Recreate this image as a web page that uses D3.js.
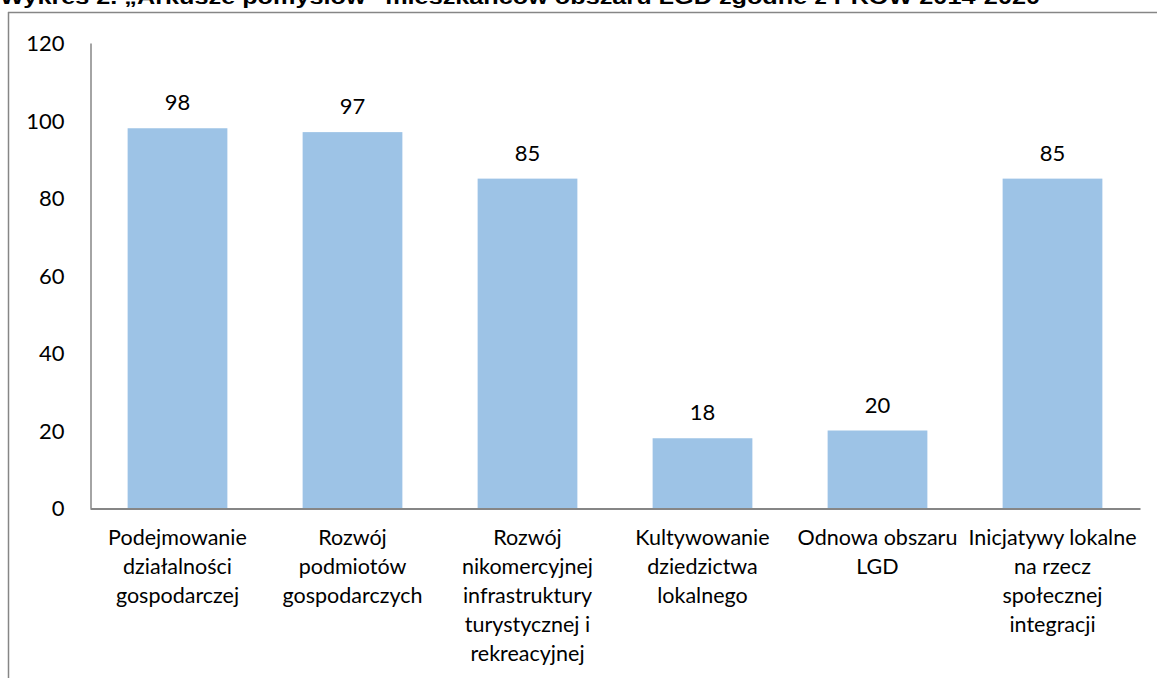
<html>
<head>
<meta charset="utf-8">
<script src="https://d3js.org/d3.v7.min.js"></script>
<style>
  body { margin: 0; background: #fff; }
  svg text { font-family: Lato, "Open Sans", sans-serif; fill: #000; }
  .title { font-family: "Liberation Sans", Arial, sans-serif; font-weight: bold; }
</style>
</head>
<body>
<svg id="chart" width="1157" height="678"></svg>
<script>
// data
var categories = [
  ["Podejmowanie", "działalności", "gospodarczej"],
  ["Rozwój", "podmiotów", "gospodarczych"],
  ["Rozwój", "nikomercyjnej", "infrastruktury", "turystycznej i", "rekreacyjnej"],
  ["Kultywowanie", "dziedzictwa", "lokalnego"],
  ["Odnowa obszaru", "LGD"],
  ["Inicjatywy lokalne", "na rzecz", "społecznej", "integracji"]
];
var values = [98, 97, 85, 18, 20, 85];
var yTicks = [0, 20, 40, 60, 80, 100, 120];
var title = "Wykres 2. „Arkusze pomysłów\u201D mieszkańców obszaru LGD zgodne z PROW 2014-2020";

var svg = d3.select("#chart");
var axisColor = "#868686";

// outer frame (top and left edge visible)
svg.append("line").attr("x1", 8).attr("x2", 1157).attr("y1", 12.5).attr("y2", 12.5)
  .attr("stroke", axisColor).attr("stroke-width", 1.5);
svg.append("line").attr("x1", 8.5).attr("x2", 8.5).attr("y1", 12).attr("y2", 678)
  .attr("stroke", axisColor).attr("stroke-width", 1.5);

svg.append("text").attr("class", "title")
  .attr("x", 0).attr("y", 4)
  .attr("font-size", 20)
  .attr("textLength", 1040).attr("lengthAdjust", "spacingAndGlyphs")
  .text(title);

var x = d3.scaleBand()
  .domain(d3.range(values.length))
  .range([90, 1140])
  .paddingInner(0.43).paddingOuter(0.215);

var y = d3.scaleLinear().domain([0, 120]).range([508, 43]);

// bars
svg.selectAll(".bar").data(values).enter().append("rect")
  .attr("class", "bar")
  .attr("x", function (d, i) { return x(i); })
  .attr("y", function (d) { return y(d); })
  .attr("width", x.bandwidth())
  .attr("height", function (d) { return y(0) - y(d); })
  .attr("fill", "#9dc3e6");

// value labels
svg.selectAll(".val").data(values).enter().append("text")
  .attr("class", "val")
  .attr("x", function (d, i) { return x(i) + x.bandwidth() / 2; })
  .attr("y", function (d) { return y(d) - 18; })
  .attr("text-anchor", "middle")
  .attr("font-size", 22)
  .text(function (d) { return d; });

// y axis
var yAxis = d3.axisLeft(y).tickValues(yTicks).tickSize(0).tickPadding(26);
var gy = svg.append("g").attr("transform", "translate(90.5,0)").call(yAxis);
gy.select(".domain").attr("stroke", axisColor).attr("stroke-width", 1.5);
gy.selectAll("text").attr("font-size", 22).attr("dy", "0.35em")
  .style("font-family", "Lato, sans-serif");

// x axis line
var gx = svg.append("g").attr("transform", "translate(0,508.5)")
  .call(d3.axisBottom(x).tickSize(0).tickFormat(""));
gx.select(".domain").attr("stroke", axisColor).attr("stroke-width", 2);

// category labels
var cat = svg.selectAll(".cat").data(categories).enter().append("text")
  .attr("class", "cat")
  .attr("text-anchor", "middle")
  .attr("font-size", 21.5);
cat.selectAll("tspan").data(function (d, i) {
    return d.map(function (s) { return { s: s, i: i }; });
  }).enter().append("tspan")
  .attr("x", function (d) { return x(d.i) + x.bandwidth() / 2; })
  .attr("y", function (d, j) { return 545 + j * 29; })
  .text(function (d) { return d.s; });
</script>
</body>
</html>
